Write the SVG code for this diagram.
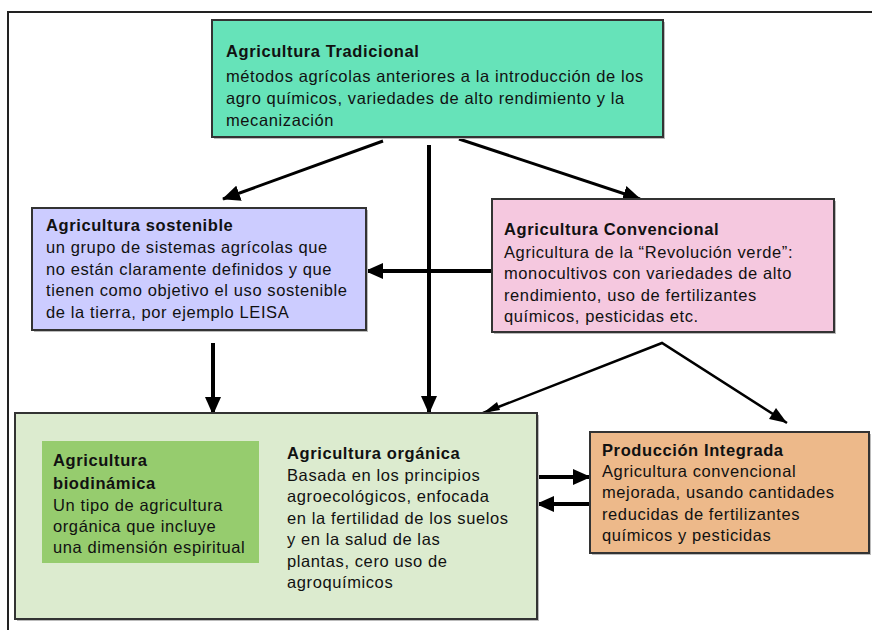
<svg xmlns="http://www.w3.org/2000/svg" width="872" height="630" viewBox="0 0 872 630">
<defs>
<style>
text{font-family:"Liberation Sans",Arial,sans-serif;font-size:16.5px;letter-spacing:0.6px;fill:#111}
.b{font-weight:bold}
.box{stroke:#333;stroke-width:2}
.sh{fill:#bbb}
.c{stroke:#000;fill:none}
</style>
<marker id="ah" markerUnits="userSpaceOnUse" markerWidth="18" markerHeight="16" viewBox="0 0 18 16" refX="17" refY="8" orient="auto">
<path d="M0,0 L18,8 L0,16 Z" fill="#000"/>
</marker>
</defs>
<rect width="872" height="630" fill="#fff"/>
<path d="M8,630 V12 H872" fill="none" stroke="#222" stroke-width="2"/>

<g id="connectors">
<line class="c" x1="383" y1="141" x2="223" y2="199" stroke-width="3" marker-end="url(#ah)"/>
<line class="c" x1="429" y1="145" x2="429" y2="413" stroke-width="4" marker-end="url(#ah)"/>
<line class="c" x1="459" y1="139" x2="640" y2="199" stroke-width="3" marker-end="url(#ah)"/>
<line class="c" x1="492" y1="271" x2="366" y2="271" stroke-width="4" marker-end="url(#ah)"/>
<line class="c" x1="213" y1="343" x2="213" y2="414" stroke-width="4" marker-end="url(#ah)"/>
<polyline class="c" points="483,413 662,343 787,423" stroke-width="2.5" stroke-linejoin="miter"/>
<path d="M483,413 L497,402 L500,410 Z" fill="#000"/>
<path d="M787,423 L769,419 L776,408 Z" fill="#000"/>
<line class="c" x1="537" y1="477" x2="590" y2="477" stroke-width="4" marker-end="url(#ah)"/>
<line class="c" x1="590" y1="504" x2="537" y2="504" stroke-width="4" marker-end="url(#ah)"/>
</g>

<g id="tradicional">
<rect class="sh" x="214" y="22" width="451" height="117"/>
<rect class="box" x="212" y="20" width="451" height="117" fill="#66E3B9"/>
<text class="b" x="226" y="57">Agricultura Tradicional</text>
<text x="226" y="82">métodos agrícolas anteriores a la introducción de los</text>
<text x="226" y="104">agro químicos, variedades de alto rendimiento y la</text>
<text x="226" y="126">mecanización</text>
</g>

<g id="sostenible">
<rect class="sh" x="34" y="210" width="334" height="122"/>
<rect class="box" x="32" y="208" width="334" height="122" fill="#CCCCFF"/>
<text class="b" x="46" y="231">Agricultura sostenible</text>
<text x="46" y="253">un grupo de sistemas agrícolas que</text>
<text x="46" y="275">no están claramente definidos y que</text>
<text x="46" y="296">tienen como objetivo el uso sostenible</text>
<text x="46" y="318">de la tierra, por ejemplo LEISA</text>
</g>

<g id="convencional">
<rect class="sh" x="494" y="201" width="342" height="133"/>
<rect class="box" x="492" y="199" width="342" height="133" fill="#F5C8DF"/>
<text class="b" x="504" y="235">Agricultura Convencional</text>
<text x="504" y="258">Agricultura de la “Revolución verde”:</text>
<text x="504" y="279">monocultivos con variedades de alto</text>
<text x="504" y="301">rendimiento, uso de fertilizantes</text>
<text x="504" y="322">químicos, pesticidas etc.</text>
</g>

<g id="organica">
<rect class="sh" x="17" y="415" width="522" height="206"/>
<rect class="box" x="15" y="413" width="522" height="206" fill="#DCEBCF"/>
<text class="b" x="287" y="459">Agricultura orgánica</text>
<text x="287" y="481">Basada en los principios</text>
<text x="287" y="502">agroecológicos, enfocada</text>
<text x="287" y="524">en la fertilidad de los suelos</text>
<text x="287" y="545">y en la salud de las</text>
<text x="287" y="567">plantas, cero uso de</text>
<text x="287" y="588">agroquímicos</text>
</g>

<g id="biodinamica">
<rect x="42" y="441" width="217" height="122" fill="#96CC6E"/>
<text class="b" x="53" y="466">Agricultura</text>
<text class="b" x="53" y="489">biodinámica</text>
<text x="53" y="511">Un tipo de agricultura</text>
<text x="53" y="532">orgánica que incluye</text>
<text x="53" y="553">una dimensión espiritual</text>
</g>

<g id="integrada">
<rect class="sh" x="592" y="434" width="279" height="121"/>
<rect class="box" x="590" y="432" width="279" height="121" fill="#EDB98A"/>
<text class="b" x="602" y="456">Producción Integrada</text>
<text x="602" y="477">Agricultura convencional</text>
<text x="602" y="498">mejorada, usando cantidades</text>
<text x="602" y="520">reducidas de fertilizantes</text>
<text x="602" y="541">químicos y pesticidas</text>
</g>
</svg>
